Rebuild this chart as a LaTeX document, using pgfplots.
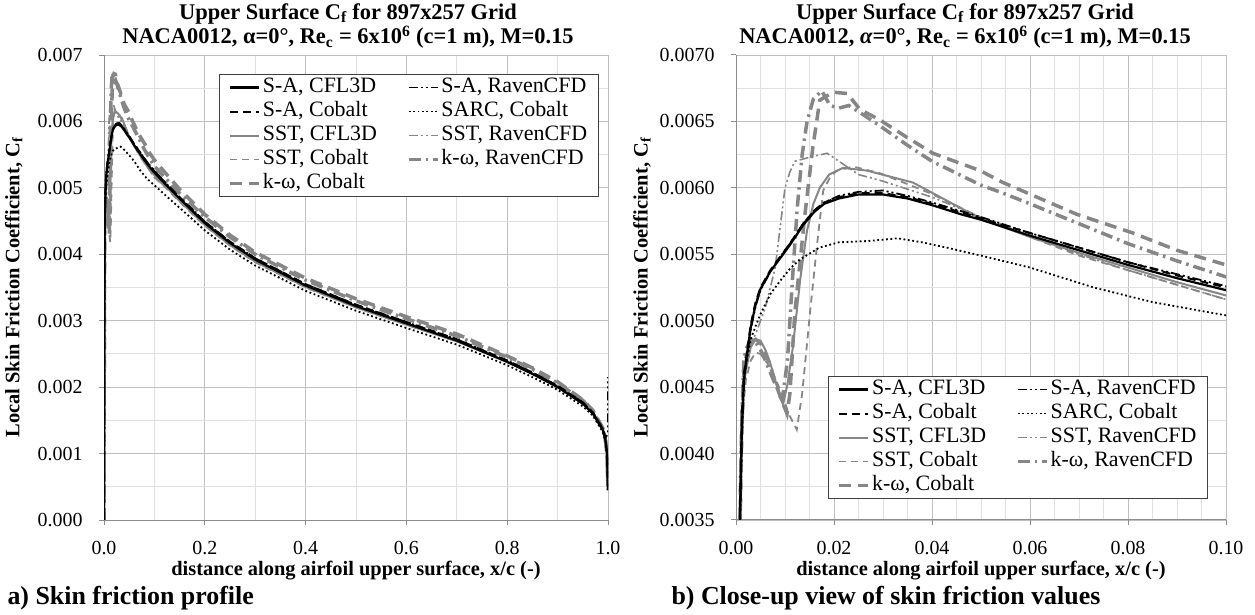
\documentclass[border=0pt]{standalone}
\usepackage{fontspec}
\setmainfont{Liberation Serif}
\usepackage{pgfplots}
\pgfplotsset{compat=1.18}
\usepackage{pgfplotstable}
\definecolor{cgray}{RGB}{134,134,134}
\definecolor{majgrid}{RGB}{192,192,192}
\definecolor{mingrid}{RGB}{224,224,224}
\definecolor{axgray}{RGB}{140,140,140}

\pgfplotstableread{
x y
0 0
0.0004 0.0020
0.0008 0.0035
0.0012 0.0042
0.0016 0.00455
0.002 0.00468
0.003 0.00495
0.004 0.00512
0.005 0.00524
0.007 0.00537
0.009 0.00547
0.011 0.00557
0.0137 0.00572
0.016 0.00582
0.018 0.00588
0.021 0.00592
0.025 0.00595
0.030 0.00595
0.035 0.00592
0.040 0.00587
0.046 0.00580
0.050 0.00576
0.060 0.00564
0.070 0.00553
0.080 0.00542
0.090 0.00532
0.100 0.00523
0.120 0.00507
0.150 0.00484
0.200 0.00447
0.250 0.00417
0.300 0.00392
0.400 0.00353
0.500 0.00322
0.600 0.00296
0.700 0.00270
0.800 0.00238
0.850 0.00220
0.900 0.00200
0.950 0.00175
0.970 0.00160
0.990 0.00135
0.995 0.00120
0.998 0.00100
1.000 0.00045
}\tSAcfl

\pgfplotstableread{
x y
0 0
0.0004 0.0021
0.0008 0.0036
0.0012 0.0043
0.0016 0.0046
0.002 0.0047
0.003 0.00497
0.004 0.00514
0.005 0.00525
0.007 0.00538
0.009 0.00548
0.011 0.00558
0.0137 0.00573
0.016 0.00583
0.018 0.00589
0.021 0.00593
0.025 0.00596
0.030 0.00596
0.035 0.00593
0.040 0.00588
0.050 0.00577
0.060 0.00566
0.070 0.00555
0.080 0.00544
0.090 0.00534
0.100 0.00525
0.120 0.00509
0.150 0.00486
0.200 0.00449
0.250 0.00419
0.300 0.00394
0.400 0.00355
0.500 0.00324
0.600 0.00298
0.700 0.00272
0.800 0.00240
0.850 0.00222
0.900 0.00202
0.950 0.00177
0.970 0.00162
0.990 0.00137
0.995 0.00122
0.998 0.00102
1.000 0.00048
}\tSAcob

\pgfplotstableread{
x y
0 0
0.0004 0.0019
0.0008 0.0034
0.0012 0.0041
0.0016 0.0045
0.002 0.00466
0.003 0.00493
0.004 0.00511
0.005 0.00523
0.007 0.00537
0.009 0.00548
0.011 0.00558
0.0137 0.00573
0.016 0.00583
0.018 0.00589
0.021 0.00594
0.025 0.00597
0.030 0.00598
0.035 0.00594
0.040 0.00589
0.050 0.00578
0.060 0.00566
0.070 0.00555
0.080 0.00544
0.090 0.00535
0.100 0.00526
0.120 0.00509
0.150 0.00486
0.200 0.00449
0.250 0.00419
0.300 0.00394
0.400 0.00355
0.500 0.00324
0.600 0.00298
0.700 0.00272
0.800 0.00240
0.850 0.00222
0.900 0.00202
0.950 0.00177
0.970 0.00162
0.990 0.00137
0.995 0.00124
1.000 0.00130
1.000 0.00215
}\tSArav

\pgfplotstableread{
x y
0 0
0.0004 0.0020
0.0008 0.0035
0.0012 0.0042
0.0016 0.00455
0.002 0.00466
0.003 0.00486
0.004 0.00496
0.005 0.00505
0.007 0.00520
0.009 0.00530
0.011 0.00539
0.013 0.00546
0.017 0.00555
0.021 0.00559
0.027 0.00560
0.033 0.00562
0.038 0.00559
0.043 0.00555
0.050 0.00549
0.060 0.00540
0.073 0.00525
0.085 0.00514
0.100 0.00504
0.120 0.00490
0.150 0.00470
0.200 0.00436
0.250 0.00407
0.300 0.00383
0.400 0.00345
0.500 0.00315
0.600 0.00289
0.700 0.00264
0.800 0.00233
0.850 0.00215
0.900 0.00196
0.950 0.00171
0.970 0.00157
0.990 0.00132
0.995 0.00118
0.998 0.00098
1.000 0.00045
}\tSARC

\pgfplotstableread{
x y
0 0
0.0004 0.0018
0.0008 0.0035
0.0012 0.0042
0.0016 0.0045
0.002 0.00462
0.003 0.00480
0.004 0.00486
0.005 0.00485
0.006 0.00478
0.007 0.00468
0.008 0.00455
0.009 0.00442
0.0096 0.00437
0.0105 0.00452
0.0116 0.00480
0.0131 0.00531
0.0145 0.00568
0.0158 0.00588
0.0171 0.00600
0.019 0.00610
0.0218 0.00615
0.0267 0.00613
0.0361 0.00604
0.0498 0.00577
0.060 0.00563
0.070 0.00551
0.080 0.00540
0.090 0.00529
0.100 0.00519
0.120 0.00504
0.150 0.00481
0.200 0.00444
0.250 0.00414
0.300 0.00389
0.400 0.00351
0.500 0.00320
0.600 0.00294
0.700 0.00269
0.800 0.00238
0.850 0.00220
0.900 0.00201
0.950 0.00176
0.970 0.00161
0.990 0.00135
0.995 0.00118
0.998 0.00095
1.000 0.00045
}\tSSTcfl

\pgfplotstableread{
x y
0 0
0.0004 0.0016
0.0008 0.0033
0.0012 0.0041
0.0016 0.0044
0.002 0.00455
0.003 0.00470
0.004 0.00476
0.005 0.00475
0.007 0.00465
0.009 0.00448
0.011 0.00428
0.0124 0.00418
0.0135 0.00445
0.0151 0.00506
0.0165 0.00556
0.0178 0.00598
0.0192 0.00608
0.0206 0.00613
0.0239 0.00616
0.0294 0.00611
0.0396 0.00596
0.0498 0.00578
0.060 0.00563
0.070 0.00549
0.080 0.00538
0.090 0.00527
0.100 0.00516
0.120 0.00502
0.150 0.00479
0.200 0.00443
0.250 0.00413
0.300 0.00388
0.400 0.00350
0.500 0.00320
0.600 0.00294
0.700 0.00269
0.800 0.00238
0.850 0.00220
0.900 0.00201
0.950 0.00176
0.970 0.00161
0.990 0.00135
0.995 0.00118
0.998 0.00095
1.000 0.00045
}\tSSTcob

\pgfplotstableread{
x y
0 0
0.0004 0.0020
0.0008 0.0036
0.0012 0.0043
0.0016 0.0046
0.002 0.00468
0.003 0.00482
0.004 0.00490
0.006 0.00510
0.008 0.00540
0.009 0.00570
0.010 0.00600
0.011 0.00612
0.012 0.00620
0.014 0.00622
0.016 0.00624
0.0186 0.00626
0.021 0.00620
0.025 0.00610
0.030 0.00605
0.040 0.00593
0.050 0.00578
0.060 0.00564
0.070 0.00550
0.080 0.00538
0.090 0.00527
0.100 0.00516
0.120 0.00503
0.150 0.00480
0.200 0.00444
0.250 0.00414
0.300 0.00389
0.400 0.00351
0.500 0.00321
0.600 0.00295
0.700 0.00270
0.800 0.00239
0.850 0.00221
0.900 0.00202
0.950 0.00177
0.970 0.00162
0.990 0.00136
0.995 0.00119
0.998 0.00096
1.000 0.00045
}\tSSTrav

\pgfplotstableread{
x y
0 0
0.0004 0.0018
0.0008 0.0034
0.0012 0.0042
0.0016 0.0046
0.002 0.00472
0.003 0.00484
0.004 0.00486
0.005 0.00483
0.006 0.00476
0.007 0.00466
0.008 0.00454
0.009 0.00443
0.0104 0.00430
0.011 0.00445
0.012 0.00506
0.0141 0.00581
0.0157 0.00631
0.0171 0.00666
0.0198 0.00672
0.0227 0.00671
0.0253 0.00659
0.0294 0.00651
0.0349 0.00638
0.0402 0.00626
0.0498 0.00613
0.0545 0.00604
0.0696 0.00580
0.081 0.00566
0.090 0.00553
0.100 0.00542
0.120 0.00524
0.150 0.00498
0.200 0.00460
0.250 0.00429
0.300 0.00403
0.400 0.00364
0.500 0.00333
0.600 0.00306
0.700 0.00280
0.800 0.00247
0.850 0.00229
0.900 0.00208
0.950 0.00181
0.970 0.00165
0.990 0.00138
0.995 0.00120
0.998 0.00097
1.000 0.00045
}\tKWcob

\pgfplotstableread{
x y
0 0
0.0004 0.0019
0.0008 0.0035
0.0012 0.0043
0.0016 0.0047
0.002 0.00478
0.003 0.00486
0.004 0.00484
0.005 0.00478
0.006 0.00470
0.007 0.00461
0.008 0.00452
0.0095 0.00442
0.0105 0.00470
0.0115 0.00530
0.0125 0.00585
0.0135 0.00625
0.0145 0.00650
0.0158 0.00667
0.0175 0.00673
0.0192 0.00662
0.021 0.00660
0.023 0.00662
0.026 0.00655
0.030 0.00645
0.035 0.00632
0.040 0.00620
0.050 0.00602
0.0545 0.00596
0.060 0.00588
0.070 0.00573
0.080 0.00558
0.090 0.00545
0.100 0.00533
0.120 0.00516
0.150 0.00492
0.200 0.00456
0.250 0.00426
0.300 0.00400
0.400 0.00361
0.500 0.00330
0.600 0.00303
0.700 0.00277
0.800 0.00245
0.850 0.00227
0.900 0.00206
0.950 0.00180
0.970 0.00164
0.990 0.00137
0.995 0.00120
0.998 0.00097
1.000 0.00045
}\tKWrav

\tikzset{
  sSAcfl/.style={black, line width=2.2bp, solid},
  sSAcob/.style={black, line width=2bp, dash pattern=on 8bp off 5bp},
  sSArav/.style={black, line width=1.8bp, dash pattern=on 9bp off 3bp on 2bp off 3bp on 2bp off 3bp},
  sSARC/.style={black, line width=1.8bp, dash pattern=on 1.8bp off 2.6bp},
  sSSTcfl/.style={cgray, line width=2bp, solid},
  sSSTrav/.style={cgray, line width=1.6bp, dash pattern=on 9bp off 3bp on 2bp off 3bp on 2bp off 3bp},
  sSSTcob/.style={cgray, line width=1.8bp, dash pattern=on 7bp off 5bp},
  sKWrav/.style={cgray, line width=3.5bp, dash pattern=on 12bp off 5bp on 2.5bp off 5bp},
  sKWcob/.style={cgray, line width=3.5bp, dash pattern=on 12bp off 7bp},
}

\pgfplotsset{
  cfbase/.style={
    scale only axis, clip=true,
    axis x line*=bottom, axis y line*=left,
    axis line style={axgray, line width=1bp},
    grid=both,
    major grid style={majgrid, line width=0.9bp},
    minor grid style={mingrid, line width=0.9bp},
    tick align=outside,
    major tick length=5bp, minor tick length=0bp,
    tick style={axgray, line width=1bp},
    scaled x ticks=false, scaled y ticks=false,
    tick label style={font=\fontsize{20}{24}\selectfont},
    xticklabel style={yshift=-13bp},
    yticklabel style={xshift=-13bp},
    /pgf/number format/assume math mode=true,
    legend cell align=left,
    legend columns=2,
    legend style={draw=black!75, line width=1bp, fill=white,
      font=\fontsize{22}{26}\selectfont, inner xsep=9bp, inner ysep=1bp,
      /tikz/every even column/.append style={column sep=28bp},
      nodes={inner xsep=2bp, inner ysep=3bp, text height=14bp, text depth=4bp}},
    legend image code/.code={\draw[##1] (0bp,0bp) -- (29bp,0bp);},
    label style={font=\bfseries\fontsize{20.5}{24}\selectfont},
  },
}

\newcommand{\legendset}{%
  \addlegendimage{sSAcfl}\addlegendentry{S-A, CFL3D}
  \addlegendimage{sSArav}\addlegendentry{S-A, RavenCFD}
  \addlegendimage{sSAcob}\addlegendentry{S-A, Cobalt}
  \addlegendimage{sSARC}\addlegendentry{SARC, Cobalt}
  \addlegendimage{sSSTcfl}\addlegendentry{SST, CFL3D}
  \addlegendimage{sSSTrav}\addlegendentry{SST, RavenCFD}
  \addlegendimage{sSSTcob}\addlegendentry{SST, Cobalt}
  \addlegendimage{sKWrav}\addlegendentry{k-ω, RavenCFD}
  \addlegendimage{sKWcob}\addlegendentry{k-ω, Cobalt}
}
\newcommand{\curveset}{%
  \addplot[sKWcob, forget plot] table {\tKWcob};
  \addplot[sKWrav, forget plot] table {\tKWrav};
  \addplot[sSSTcob, forget plot] table {\tSSTcob};
  \addplot[sSSTrav, forget plot] table {\tSSTrav};
  \addplot[sSSTcfl, forget plot] table {\tSSTcfl};
  \addplot[sSARC, forget plot] table {\tSARC};
  \addplot[sSArav, forget plot] table {\tSArav};
  \addplot[sSAcob, forget plot] table {\tSAcob};
  \addplot[sSAcfl, forget plot] table {\tSAcfl};
}

\begin{document}
\begin{tikzpicture}
\useasboundingbox (0,0) rectangle (1255bp,615bp);

\begin{axis}[cfbase,
  at={(104bp,95bp)}, anchor=south west,
  width=504bp, height=465bp,
  xmin=0, xmax=1, ymin=0, ymax=0.007,
  xtick={0,0.2,0.4,0.6,0.8,1},
  minor xtick={0.1,0.3,0.5,0.7,0.9},
  ytick={0,0.001,0.002,0.003,0.004,0.005,0.006,0.007},
  minor ytick={0.0005,0.0015,0.0025,0.0035,0.0045,0.0055,0.0065},
  xticklabel style={/pgf/number format/.cd, fixed, fixed zerofill, precision=1},
  yticklabel style={/pgf/number format/.cd, fixed, fixed zerofill, precision=3},
  xlabel={distance along airfoil upper surface, x/c (-)},
  ylabel={Local Skin Friction Coefficient, C\textsubscript{f}},
  xlabel style={at={(axis description cs:0.5,-0.108)}, anchor=center},
  ylabel style={at={(axis description cs:-0.179,0.5)}, anchor=center},
  legend style={at={(axis description cs:0.228,0.959)}, anchor=north west},
]
\legendset
\curveset
\end{axis}

\begin{axis}[cfbase,
  at={(736bp,95bp)}, anchor=south west,
  width=490bp, height=465bp,
  xmin=0, xmax=0.1, ymin=0.0035, ymax=0.007,
  xtick={0,0.02,0.04,0.06,0.08,0.1},
  minor xtick={0.005,0.01,0.015,0.025,0.03,0.035,0.045,0.05,0.055,0.065,0.07,0.075,0.085,0.09,0.095},
  ytick={0.0035,0.004,0.0045,0.005,0.0055,0.006,0.0065,0.007},
  minor ytick={0.00375,0.00425,0.00475,0.00525,0.00575,0.00625,0.00675},
  xticklabel style={/pgf/number format/.cd, fixed, fixed zerofill, precision=2},
  yticklabel style={/pgf/number format/.cd, fixed, fixed zerofill, precision=4},
  xlabel={distance along airfoil upper surface, x/c (-)},
  ylabel={Local Skin Friction Coefficient, C\textsubscript{f}},
  xlabel style={at={(axis description cs:0.5,-0.108)}, anchor=center},
  ylabel style={at={(axis description cs:-0.192,0.5)}, anchor=center},
  legend style={at={(axis description cs:0.188,0.045)}, anchor=south west},
]
\legendset
\curveset
\end{axis}

\node[align=center, font=\bfseries\fontsize{22.5}{25}\selectfont] at (348bp,589bp)
  {Upper Surface C\textsubscript{f} for 897x257 Grid\\NACA0012, α=0°, Re\textsubscript{c} = 6x10\textsuperscript{6} (c=1 m), M=0.15};
\node[align=center, font=\bfseries\fontsize{22.5}{25}\selectfont] at (965bp,589bp)
  {Upper Surface C\textsubscript{f} for 897x257 Grid\\NACA0012, \textit{α}=0°, Re\textsubscript{c} = 6x10\textsuperscript{6} (c=1 m), M=0.15};
\node[anchor=west, font=\bfseries\fontsize{26}{30}\selectfont] at (4bp,17bp) {a) Skin friction profile};
\node[anchor=west, font=\bfseries\fontsize{26}{30}\selectfont] at (668bp,17bp) {b) Close-up view of skin friction values};
\end{tikzpicture}
\end{document}
